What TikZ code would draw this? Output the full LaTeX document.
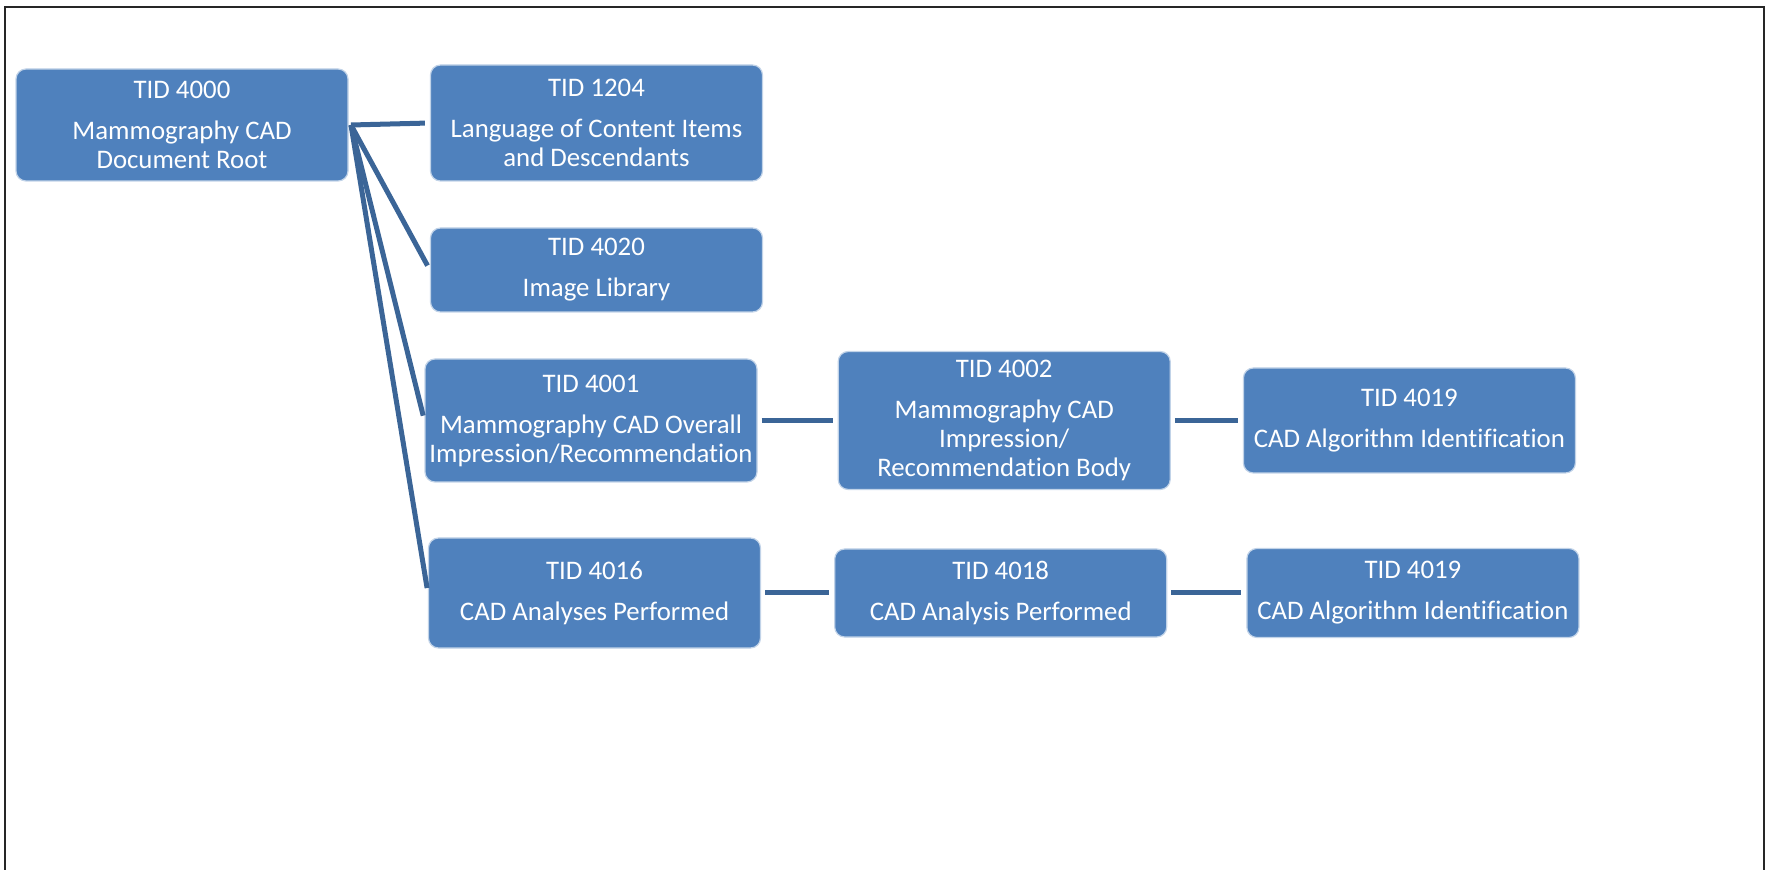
\documentclass[tikz,border=0pt]{standalone}
\usepackage{fontspec}
\setmainfont{Carlito}[Ligatures=NoCommon]
\usepackage{tikz}
\usetikzlibrary{arrows,positioning}
\usepackage{xcolor}
\definecolor{boxblue}{RGB}{79,129,189}
\definecolor{lineblue}{RGB}{59,101,151}

\begin{document}
\begin{tikzpicture}[x=0.5pt,y=-0.5pt,auto,node distance=40pt,
			line cap=butt]
				\tikzstyle{tid}=
				[rectangle,rounded corners=5pt,fill=boxblue,draw=white!65!boxblue,
				line width=0.6pt,text=white,minimum width=166pt,inner sep=2pt,
				align=center,font=\fontsize{13.4}{14.5}\selectfont]
				\tikzstyle{link}=
				[draw=lineblue,line width=2.5pt,shorten >=2.5pt]
				
				\useasboundingbox (0,0) rectangle (1765,870);
				\draw[line width=0.8pt,black!85] (5,870) -- (5,7) -- (1764,7) -- (1764,870);
				
				\node[tid,minimum height=56pt] (R) at (182,125) {TID 4000\\[6pt]Mammography CAD\\Document Root};
				\node[tid,minimum height=58pt] (A) at (596.5,123) {TID 1204\\[6pt]Language of Content Items\\and Descendants};
				\node[tid,minimum height=42pt] (B) at (596.5,270) {TID 4020\\[6pt]Image Library};
				\node[tid,minimum height=61.5pt] (C) at (591,420.5) {TID 4001\\[6pt]Mammography CAD Overall\\Impression/Recommendation};
				\node[tid,minimum height=55pt] (D) at (594.5,593) {TID 4016\\[6pt]CAD Analyses Performed};
				
				\node[tid,minimum height=69pt] (E) [right=40pt of C] {TID 4002\\[6pt]Mammography CAD\\Impression/\\Recommendation Body};
				\node[tid,minimum height=52.5pt] (F) [right=36pt of E] {TID 4019\\[6pt]CAD Algorithm Identification};
				\node[tid,minimum height=44pt] (G) [right=36.5pt of D] {TID 4018\\[6pt]CAD Analysis Performed};
				\node[tid,minimum height=44.5pt] (H) [right=39.5pt of G] {TID 4019\\[6pt]CAD Algorithm Identification};
				
				\coordinate (hub) at (351,125);
				
				\path[link] (hub) edge (A.west)
						(hub) edge (B.west)
						(hub) edge (C.west)
						(hub) edge (D.west);
				\path[link,shorten <=2pt]
						(C) edge (E)
						(E) edge (F)
						(D) edge (G)
						(G) edge (H);
			\end{tikzpicture}
\end{document}
